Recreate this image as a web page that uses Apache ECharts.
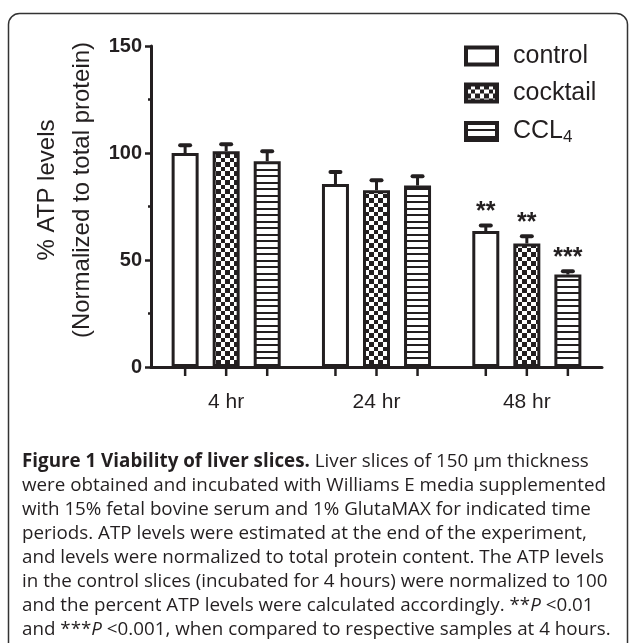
<!DOCTYPE html>
<html>
<head>
<meta charset="utf-8">
<script src="https://cdn.jsdelivr.net/npm/echarts@6/dist/echarts.min.js"></script>
<style>
  html, body { margin: 0; padding: 0; background: #ffffff; }
  #chart { width: 629px; height: 643px; }
</style>
</head>
<body>
<div id="chart"></div>
<script>
// ---- data ----
const categories = ['4 hr', '24 hr', '48 hr'];
const seriesNames = ['control', 'cocktail', 'CCL4'];
const controlValues = [100, 85.5, 63.5];
const cocktailValues = [100.8, 82.6, 57.7];
const ccl4Values = [96.2, 84.8, 43.2];
const controlErr = [3.6, 5.6, 2.6];
const cocktailErr = [3.3, 4.7, 3.4];
const ccl4Err = [4.6, 4.3, 1.5];
const controlStars = ['', '', '**'];
const cocktailStars = ['', '', '**'];
const ccl4Stars = ['', '', '***'];
const yTicks = [0, 50, 100, 150];
const yTitle1 = '% ATP levels';
const yTitle2 = '(Normalized to total protein)';
const captionLines = [
  [['b', 'Figure 1 Viability of liver slices.'], ['n', ' Liver slices of 150 μm thickness']],
  [['n', 'were obtained and incubated with Williams E media supplemented']],
  [['n', 'with 15% fetal bovine serum and 1% GlutaMAX for indicated time']],
  [['n', 'periods. ATP levels were estimated at the end of the experiment,']],
  [['n', 'and levels were normalized to total protein content. The ATP levels']],
  [['n', 'in the control slices (incubated for 4 hours) were normalized to 100']],
  [['n', 'and the percent ATP levels were calculated accordingly. **'], ['i', 'P'], ['n', ' <0.01']],
  [['n', 'and ***'], ['i', 'P'], ['n', ' <0.001, when compared to respective samples at 4 hours.']]
];

// ---- style ----
const INK = '#231f20';
const BAR_W = 27;
const BAR_GAP = 0.52;
const CAP_FONT = 18.8;

function makeChecker() {
  const c = document.createElement('canvas');
  c.width = 9; c.height = 9;
  const g = c.getContext('2d');
  g.fillStyle = '#ffffff'; g.fillRect(0, 0, 9, 9);
  g.fillStyle = INK;
  g.fillRect(0, 0, 5, 5);
  g.fillRect(5, 5, 4, 4);
  return c;
}
function makeStripes() {
  const c = document.createElement('canvas');
  c.width = 4; c.height = 13;
  const g = c.getContext('2d');
  g.fillStyle = '#ffffff'; g.fillRect(0, 0, 4, 13);
  g.fillStyle = INK;
  g.fillRect(0, 0, 4, 2);
  g.fillRect(0, 6, 4, 2);
  return c;
}
const fills = [
  '#ffffff',
  { image: makeChecker(), repeat: 'repeat' },
  { image: makeStripes(), repeat: 'repeat' }
];
const valueSets = [controlValues, cocktailValues, ccl4Values];
const errSets = [controlErr, cocktailErr, ccl4Err];
const starSets = [controlStars, cocktailStars, ccl4Stars];

const chart = echarts.init(document.getElementById('chart'), null, { renderer: 'canvas' });

const barSeries = seriesNames.map((name, s) => ({
  name: name,
  type: 'bar',
  data: valueSets[s],
  barWidth: BAR_W,
  barGap: (BAR_GAP * 100) + '%',
  itemStyle: { color: fills[s], borderColor: INK, borderWidth: 3 },
  emphasis: { disabled: true },
  z: 2
}));

const errSeries = seriesNames.map((name, s) => ({
  type: 'custom',
  clip: false,
  z: 3,
  silent: true,
  data: valueSets[s].map((v, i) => [i, v, errSets[s][i]]),
  encode: { x: 0, y: 1 },
  renderItem: function (params, api) {
    const i = api.value(0);
    const mean = api.value(1);
    const err = api.value(2);
    const pMean = api.coord([i, mean]);
    const pTop = api.coord([i, mean + err]);
    const pBase = api.coord([i, 0]);
    const step = BAR_W * (1 + BAR_GAP);
    const x = pMean[0] + (s - 1) * step;
    const children = [
      { type: 'line', shape: { x1: x, y1: pMean[1], x2: x, y2: pTop[1] },
        style: { stroke: INK, lineWidth: 3 } },
      { type: 'line', shape: { x1: x - 5, y1: pTop[1], x2: x + 5, y2: pTop[1] },
        style: { stroke: INK, lineWidth: 4, lineCap: 'round' } },
      { type: 'line', shape: { x1: x, y1: pBase[1], x2: x, y2: pBase[1] + 9 },
        style: { stroke: INK, lineWidth: 2.5 } }
    ];
    const star = starSets[s][params.dataIndex];
    if (star) {
      children.push({ type: 'text', x: x, y: pTop[1] - 1,
        style: { text: star, fill: INK, font: 'bold 25px "Liberation Sans", Arial, sans-serif',
          align: 'center', verticalAlign: 'bottom' } });
    }
    return { type: 'group', children: children };
  }
}));

const captionGraphics = captionLines.map((parts, k) => ({
  type: 'text',
  left: 22,
  top: 452 + k * 24,
  silent: true,
  style: {
    text: parts.map(p => '{' + p[0] + '|' + p[1] + '}').join(''),
    rich: {
      n: { fontFamily: '"Open Sans", sans-serif', fontSize: CAP_FONT, fill: '#231f20', lineHeight: 24 },
      b: { fontFamily: '"Open Sans", sans-serif', fontSize: CAP_FONT, fontWeight: 'bold', fill: '#231f20', lineHeight: 24 },
      i: { fontFamily: '"Open Sans", sans-serif', fontSize: CAP_FONT, fontStyle: 'italic', fill: '#231f20', lineHeight: 24 }
    }
  }
}));

const option = {
  animation: false,
  backgroundColor: '#ffffff',
  grid: { left: 151, right: 27, top: 46, bottom: 276, containLabel: false },
  legend: {
    orient: 'vertical',
    left: 464,
    top: 43,
    padding: 0,
    itemWidth: 31,
    itemHeight: 17,
    itemGap: 11,
    icon: 'rect',
    selectedMode: false,
    data: seriesNames,
    itemStyle: { borderColor: INK, borderWidth: 4 },
    formatter: function (n) { return n === 'CCL4' ? '{t|CCL}{s|4}' : '{t|' + n + '}'; },
    textStyle: {
      padding: [0, 0, 0, 11],
      lineHeight: 26,
      rich: {
        t: { fontFamily: '"Liberation Sans", Arial, sans-serif', fontSize: 25, color: INK, lineHeight: 26 },
        s: { fontFamily: '"Liberation Sans", Arial, sans-serif', fontSize: 17, color: INK, lineHeight: 26, padding: [12, 0, 0, 0] }
      }
    }
  },
  xAxis: {
    type: 'category',
    data: categories,
    axisLine: { lineStyle: { color: INK, width: 3 } },
    axisTick: { show: false },
    axisLabel: { color: INK, fontSize: 21, fontFamily: '"Liberation Sans", Arial, sans-serif', margin: 25 }
  },
  yAxis: {
    type: 'value',
    min: yTicks[0],
    max: yTicks[yTicks.length - 1],
    interval: yTicks[1] - yTicks[0],
    splitLine: { show: false },
    axisLine: { show: true, lineStyle: { color: INK, width: 3 } },
    axisTick: { show: true, length: 6, lineStyle: { color: INK, width: 2.5 } },
    minorTick: { show: true, splitNumber: 2, length: 3, lineStyle: { color: INK, width: 2.5 } },
    axisLabel: { color: INK, fontSize: 20, fontWeight: 'bold', fontFamily: '"Liberation Sans", Arial, sans-serif', margin: 9 }
  },
  graphic: [
    { type: 'rect', silent: true, z: -1,
      shape: { x: 8.5, y: 13.5, width: 619, height: 660, r: 11 },
      style: { fill: 'none', stroke: '#333333', lineWidth: 1.5 } },
    { type: 'text', x: 47, y: 190, rotation: Math.PI / 2, silent: true,
      style: { text: yTitle1, font: '24px "Liberation Sans", Arial, sans-serif', fill: INK, align: 'center', verticalAlign: 'middle' } },
    { type: 'text', x: 82, y: 190, rotation: Math.PI / 2, silent: true,
      style: { text: yTitle2, font: '24px "Liberation Sans", Arial, sans-serif', fill: INK, align: 'center', verticalAlign: 'middle' } }
  ].concat(captionGraphics),
  series: barSeries.concat(errSeries)
};
chart.setOption(option);
</script>
</body>
</html>
